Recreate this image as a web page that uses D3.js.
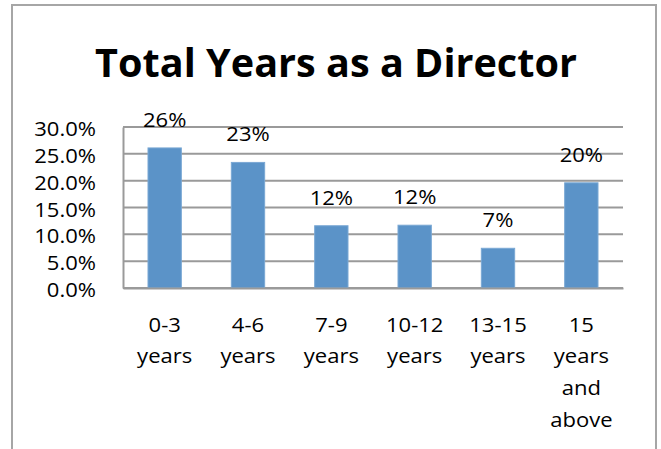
<!DOCTYPE html>
<html>
<head>
<meta charset="utf-8">
<script src="https://cdn.jsdelivr.net/npm/d3@7"></script>
<style>
  html, body { margin: 0; padding: 0; background: #fff; }
  svg { display: block; }
</style>
</head>
<body>
<svg id="chart"></svg>
<script>
const title = "Total Years as a Director";
const categories = ["0-3 years", "4-6 years", "7-9 years", "10-12 years", "13-15 years", "15 years and above"];
const values = [0.261, 0.234, 0.116, 0.117, 0.074, 0.196];
const yTicks = [0, 0.05, 0.10, 0.15, 0.20, 0.25, 0.30];

const W = 661, H = 449;
const plot = { left: 123, right: 623, top: 127, bottom: 288 };
const font = "'Open Sans', sans-serif";
const sx = 1.13; // the original picture is stretched sideways
const fs = 19.5;

const svg = d3.select("#chart").attr("width", W).attr("height", H);

// chart frame
svg.append("rect")
  .attr("x", 12).attr("y", 5)
  .attr("width", 644).attr("height", 520)
  .attr("fill", "#fff")
  .attr("stroke", "#a6a6a6")
  .attr("stroke-width", 2);

const tt = svg.append("text")
  .attr("text-anchor", "middle")
  .attr("font-family", font)
  .attr("font-weight", "bold")
  .attr("font-size", 38.5)
  .text(title);
const tsx = 482 / tt.node().getComputedTextLength();
tt.attr("transform", `translate(336,77) scale(${tsx},1)`);

const x = d3.scaleBand()
  .domain(categories)
  .range([plot.left, plot.right])
  .paddingInner(0.6)
  .paddingOuter(0.3);

const y = d3.scaleLinear()
  .domain([0, 0.3])
  .range([plot.bottom, plot.top]);

// gridlines
svg.append("g")
  .selectAll("line")
  .data(yTicks)
  .enter().append("line")
  .attr("x1", plot.left).attr("x2", plot.right)
  .attr("y1", d => y(d)).attr("y2", d => y(d))
  .attr("stroke", "#9a9a9a")
  .attr("stroke-width", 2);

// y axis
const yAxis = svg.append("g")
  .attr("transform", `translate(${plot.left},0)`)
  .call(d3.axisLeft(y).tickValues(yTicks).tickFormat(d3.format(".1%")).tickSize(0));
yAxis.select(".domain").attr("stroke", "#9a9a9a").attr("stroke-width", 2);
yAxis.selectAll("text")
  .attr("x", 0).attr("dy", null)
  .attr("transform", `translate(-27,8.5) scale(${sx},1)`)
  .attr("font-family", font)
  .attr("font-size", fs)
  .attr("fill", "#000");

// bars
svg.append("g")
  .selectAll("rect")
  .data(values)
  .enter().append("rect")
  .attr("x", (d, i) => x(categories[i]))
  .attr("y", d => y(d))
  .attr("width", x.bandwidth())
  .attr("height", d => plot.bottom - y(d))
  .attr("fill", "#5b93c8")
  .attr("stroke", "#7aa8d4")
  .attr("stroke-width", 1);

// data labels
svg.append("g")
  .selectAll("text")
  .data(values)
  .enter().append("text")
  .attr("transform", (d, i) => `translate(${x(categories[i]) + x.bandwidth() / 2},${y(d) - 21}) scale(${sx},1)`)
  .attr("text-anchor", "middle")
  .attr("font-family", font)
  .attr("font-size", fs)
  .text(d => d3.format(".0%")(d));

// x axis
const xAxis = svg.append("g")
  .attr("transform", `translate(0,${plot.bottom})`)
  .call(d3.axisBottom(x).tickSize(0));
xAxis.select(".domain").attr("stroke", "#9a9a9a").attr("stroke-width", 2);
xAxis.selectAll("text")
  .attr("y", 0).attr("dy", null)
  .attr("transform", `translate(0,43.5) scale(${sx},1)`)
  .attr("font-family", font)
  .attr("font-size", fs)
  .attr("fill", "#000")
  .each(function (d) {
    const t = d3.select(this).text(null);
    d.split(" ").forEach((w, k) => {
      t.append("tspan").attr("x", 0).attr("y", k * 31.7).text(w);
    });
  });
</script>
</body>
</html>
